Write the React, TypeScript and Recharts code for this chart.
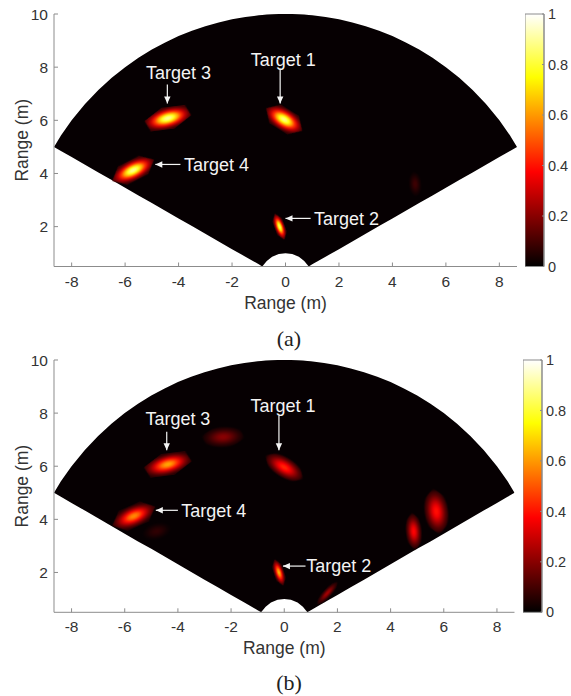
import { Area, Bar, BarChart, ComposedChart, ReferenceLine, Scatter, XAxis, YAxis } from "recharts";

// fan outline of the range map (m)
const fanX = [-8.66, -8.4, -8, -7.5, -7, -6.5, -6, -5.5, -5, -4.5, -4, -3.5, -3, -2.5, -2, -1.5, -1, -0.87, -0.7, -0.5, -0.25, 0, 0.25, 0.5, 0.7, 0.87, 1, 1.5, 2, 2.5, 3, 3.5, 4, 4.5, 5, 5.5, 6, 6.5, 7, 7.5, 8, 8.4, 8.66];
const fanTop = [5, 5.43, 6, 6.61, 7.14, 7.6, 8, 8.35, 8.66, 8.93, 9.17, 9.37, 9.54, 9.68, 9.8, 9.89, 9.95, 9.96, 9.98, 9.99, 10, 10, 10, 9.99, 9.98, 9.96, 9.95, 9.89, 9.8, 9.68, 9.54, 9.37, 9.17, 8.93, 8.66, 8.35, 8, 7.6, 7.14, 6.61, 6, 5.43, 5];
const fanBottom = [5, 4.85, 4.62, 4.33, 4.04, 3.75, 3.46, 3.17, 2.89, 2.6, 2.31, 2.02, 1.73, 1.44, 1.15, 0.87, 0.58, 0.5, 0.71, 0.87, 0.97, 1, 0.97, 0.87, 0.71, 0.5, 0.58, 0.87, 1.15, 1.44, 1.73, 2.02, 2.31, 2.6, 2.89, 3.17, 3.46, 3.75, 4.04, 4.33, 4.62, 4.85, 5];
const fanTable = fanX.map((x, i) => ({ x, band: [fanBottom[i], fanTop[i]] }));

const xTicks = [-8, -6, -4, -2, 0, 2, 4, 6, 8];
const yTicks = [2, 4, 6, 8, 10];
const barTicks = [0, 0.2, 0.4, 0.6, 0.8, 1];

// x, y in metres, peak is the normalised power, a/b half sizes in metres
const spotsA = [
  { x: -4.4, y: 6.08, peak: 0.9, a: 0.88, b: 0.42, tilt: -7, skew: -31 },
  { x: -0.05, y: 6.03, peak: 0.88, a: 0.8, b: 0.4, tilt: 32, skew: 0 },
  { x: -5.7, y: 4.12, peak: 0.9, a: 0.88, b: 0.38, tilt: -27, skew: 0 },
  { x: -0.22, y: 2.0, peak: 0.85, a: 0.52, b: 0.19, tilt: 70, skew: 0 },
  { x: 4.85, y: 3.6, peak: 0.09, a: 0.5, b: 0.26, tilt: 85, skew: 0 },
];
const spotsB = [
  { x: -4.38, y: 6.07, peak: 0.62, a: 0.9, b: 0.42, tilt: -7, skew: -31 },
  { x: 0.0, y: 5.96, peak: 0.43, a: 0.85, b: 0.4, tilt: 32, skew: 0 },
  { x: -5.66, y: 4.12, peak: 0.58, a: 0.88, b: 0.4, tilt: -24, skew: 0 },
  { x: -0.2, y: 2.0, peak: 0.64, a: 0.52, b: 0.19, tilt: 72, skew: 0 },
  { x: -2.3, y: 7.1, peak: 0.2, a: 0.82, b: 0.42, tilt: 3, skew: -20 },
  { x: -4.8, y: 3.55, peak: 0.07, a: 0.6, b: 0.34, tilt: -15, skew: 0 },
  { x: 1.62, y: 1.22, peak: 0.24, a: 0.6, b: 0.17, tilt: -48, skew: 0 },
  { x: 4.87, y: 3.55, peak: 0.38, a: 0.72, b: 0.32, tilt: 85, skew: 0 },
  { x: 5.72, y: 4.3, peak: 0.4, a: 0.88, b: 0.48, tilt: 82, skew: 0 },
];

const labelsA = [
  { x: -0.08, y: 8.27, text: "Target 1" },
  { x: 2.28, y: 2.31, text: "Target 2" },
  { x: -4.0, y: 7.8, text: "Target 3" },
  { x: -2.58, y: 4.32, text: "Target 4" },
];
const labelsB = [
  { x: -0.05, y: 8.27, text: "Target 1" },
  { x: 2.05, y: 2.24, text: "Target 2" },
  { x: -4.0, y: 7.8, text: "Target 3" },
  { x: -2.65, y: 4.32, text: "Target 4" },
];

// from -> to of each pointer
const arrowsA = [
  [-0.2, 7.95, -0.2, 6.63],
  [0.94, 2.31, 0.0, 2.31],
  [-4.42, 7.35, -4.42, 6.63],
  [-3.93, 4.34, -4.87, 4.34],
];
const arrowsB = [
  [-0.2, 7.91, -0.2, 6.6],
  [0.8, 2.24, -0.05, 2.24],
  [-4.42, 7.3, -4.42, 6.6],
  [-4.0, 4.34, -4.83, 4.34],
];

const SANS = "'Liberation Sans', Arial, sans-serif";
const AXIS = "#8c8c8c";
const INK = "#333333";
const PX_PER_M = 26.7;

function hot(v: number): string {
  const c = (t: number) => Math.round(255 * Math.max(0, Math.min(1, t)));
  return `rgb(${Math.max(c(v / 0.375), 5)},${c((v - 0.375) / 0.375)},${Math.max(c((v - 0.75) / 0.25), 2)})`;
}

function spotShape(prefix: string) {
  return (props: any) => {
    const { cx, cy, payload, index } = props;
    const a = payload.a * PX_PER_M;
    const b = payload.b * PX_PER_M;
    const id = `${prefix}-spot-${index}`;
    const stops = [0, 0.12, 0.25, 0.4, 0.55, 0.7, 0.85, 1];
    const pts = [[-a, 0], [-0.5 * a, -b], [0.5 * a, -b], [a, 0], [0.5 * a, b], [-0.5 * a, b]];
    return (
      <g transform={`translate(${cx},${cy}) rotate(${payload.tilt}) skewX(${payload.skew})`} style={{ filter: "blur(0.6px)" }}>
        <defs>
          <radialGradient id={id}>
            {stops.map((r) => (
              // faint spots fade out so they do not cut into a neighbour
              <stop
                key={r}
                offset={r}
                stopColor={hot(payload.peak * Math.exp(-2.3 * r * r))}
                stopOpacity={payload.peak < 0.5 && r === 1 ? 0 : 1}
              />
            ))}
          </radialGradient>
        </defs>
        <polygon points={pts.map((p) => p.join(",")).join(" ")} fill={`url(#${id})`} />
      </g>
    );
  };
}

function labelShape(props: any) {
  return (
    <text x={props.cx} y={props.cy} dy="0.35em" textAnchor="middle" fill="#f4f4f4" fontSize={18} fontFamily={SANS}>
      {props.payload.text}
    </text>
  );
}

function arrowShape(props: any) {
  const { x1, y1, x2, y2 } = props;
  const ang = Math.atan2(y2 - y1, x2 - x1);
  const head = [[0, 0], [-7, -3.2], [-7, 3.2]].map(([u, v]) => [
    x2 + u * Math.cos(ang) - v * Math.sin(ang),
    y2 + u * Math.sin(ang) + v * Math.cos(ang),
  ]);
  return (
    <g>
      <line x1={x1} y1={y1} x2={x2} y2={y2} stroke="#f4f4f4" strokeWidth={1.2} />
      <polygon points={head.map((p) => p.join(",")).join(" ")} fill="#f4f4f4" />
    </g>
  );
}

interface PanelProps {
  name: string;
  left: number;
  top: number;
  width: number;
  height: number;
  spots: typeof spotsA;
  labels: typeof labelsA;
  arrows: number[][];
}

function RangePanel({ name, left, top, width, height, spots, labels, arrows }: PanelProps) {
  const tickStyle = { fontSize: 15.5, fontFamily: SANS, fill: INK };
  const labelStyle = { fontSize: 17.5, fontFamily: SANS, fill: INK };
  return (
    <div style={{ position: "absolute", left: left - 54, top: top - 14 }}>
      <ComposedChart
        width={width + 108}
        height={height + 14 + 56}
        data={fanTable}
        margin={{ top: 14, right: 54, bottom: 26, left: 14 }}
      >
        <XAxis
          dataKey="x"
          type="number"
          domain={[-8.66, 8.66]}
          allowDataOverflow
          ticks={xTicks}
          interval={0}
          height={30}
          stroke={AXIS}
          tickSize={-4}
          tickMargin={13}
          tick={tickStyle}
          label={{ value: "Range (m)", position: "insideBottom", offset: -12, style: labelStyle }}
        />
        <XAxis xAxisId="top" orientation="top" type="number" domain={[-8.66, 8.66]} ticks={xTicks} interval={0} height={0} stroke={AXIS} tickSize={-4} tick={false} />
        <YAxis
          dataKey="y"
          type="number"
          domain={[0.5, 10]}
          allowDataOverflow
          ticks={yTicks}
          interval={0}
          width={40}
          stroke={AXIS}
          tickSize={-4}
          tickMargin={10}
          tick={tickStyle}
          label={{ value: "Range (m)", angle: -90, position: "insideLeft", offset: 8, style: { ...labelStyle, textAnchor: "middle" } }}
        />
        <YAxis yAxisId="right" orientation="right" type="number" domain={[0.5, 10]} ticks={yTicks} interval={0} width={0} stroke={AXIS} tickSize={-4} tick={false} />
        <Area dataKey="band" type="linear" fill="#060002" fillOpacity={1} stroke="none" dot={false} activeDot={false} isAnimationActive={false} />
        <Scatter data={spots} shape={spotShape(name)} isAnimationActive={false} />
        {arrows.map((r, i) => (
          <ReferenceLine key={i} segment={[{ x: r[0], y: r[1] }, { x: r[2], y: r[3] }]} shape={arrowShape} />
        ))}
        <Scatter data={labels} shape={labelShape} isAnimationActive={false} />
      </ComposedChart>
    </div>
  );
}

function ColorBar({ name, left, top, height }: { name: string; left: number; top: number; height: number }) {
  const gid = `${name}-hot`;
  const rows = [{ c: "power", v: 1 }];
  return (
    <div style={{ position: "absolute", left, top: top - 10 }}>
      <BarChart width={46} height={height + 20} data={rows} margin={{ top: 10, right: 0, bottom: 10, left: 0 }} barCategoryGap={0}>
        <defs>
          <linearGradient id={gid} x1="0" y1="1" x2="0" y2="0">
            <stop offset={0} stopColor="#000000" />
            <stop offset={0.375} stopColor="#ff0000" />
            <stop offset={0.75} stopColor="#ffff00" />
            <stop offset={1} stopColor="#ffffff" />
          </linearGradient>
        </defs>
        <XAxis dataKey="c" hide />
        <YAxis
          orientation="right"
          type="number"
          domain={[0, 1]}
          ticks={barTicks}
          interval={0}
          width={27}
          stroke={AXIS}
          tickSize={-2}
          tickMargin={6}
          tick={{ fontSize: 14.5, fontFamily: SANS, fill: INK }}
        />
        <Bar dataKey="v" fill={`url(#${gid})`} stroke={AXIS} strokeWidth={1} isAnimationActive={false} />
      </BarChart>
    </div>
  );
}

function Caption({ text, y }: { text: string; y: number }) {
  return (
    <div style={{ position: "absolute", left: 239, width: 100, top: y, textAlign: "center", fontFamily: "'Liberation Serif', serif", fontSize: 22, color: "#222222", lineHeight: "26px" }}>
      {text}
    </div>
  );
}

export default function App() {
  return (
    <div style={{ position: "absolute", left: 0, top: 0, width: 571, height: 696, background: "#ffffff", overflow: "hidden" }}>
      <RangePanel name="a" left={54} top={13.5} width={463} height={252.5} spots={spotsA} labels={labelsA} arrows={arrowsA} />
      <ColorBar name="a" left={525} top={13.5} height={252.5} />
      <Caption text="(a)" y={326} />
      <RangePanel name="b" left={53.5} top={359.7} width={460.5} height={252.3} spots={spotsB} labels={labelsB} arrows={arrowsB} />
      <ColorBar name="b" left={523} top={359.7} height={252.3} />
      <Caption text="(b)" y={670} />
    </div>
  );
}
